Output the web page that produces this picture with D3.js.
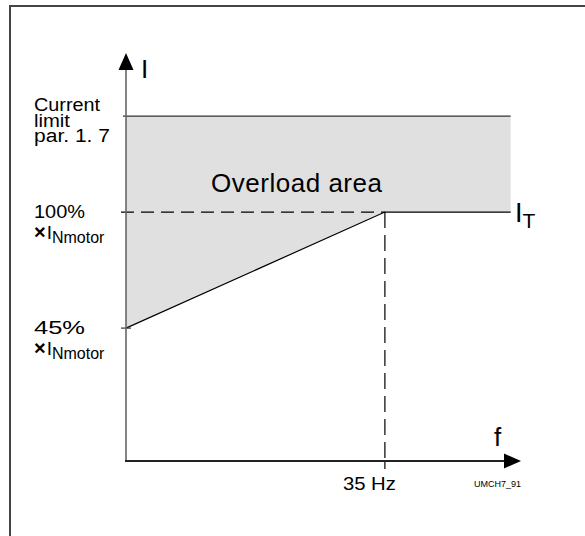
<!DOCTYPE html>
<html><head><meta charset="utf-8">
<script src="https://cdn.jsdelivr.net/npm/d3@7"></script>
<style>body{margin:0;background:#fff}svg{display:block}text{font-family:"Liberation Sans",Arial,sans-serif;fill:#000}</style>
</head><body><svg id="c" width="585" height="536"></svg>
<script>
// Data (schematic values, % of I_Nmotor vs frequency in Hz)
const freqPoints = [0, 35, 52];          // f breakpoints
const thermalCurrent = [45, 100, 100];  // I_T curve (%)
const currentLimit = 145.5;             // current limit level (par. 1.7)
const fDomain = [0, 53.4];
const iDomain = [-18, 175.4];
const limitLines = ["Current", "limit", "par. 1. 7"];
const limitWidths = [66, 36, 76];
const pctLabels = [{v: 100, pct: "100%"}, {v: 45, pct: "45%"}];
const xTickLabel = {v: 35, text: "35 Hz"};

const svg = d3.select("#c");
const x = d3.scaleLinear().domain(fDomain).range([126, 521]);
const y = d3.scaleLinear().domain(iDomain).range([461, 53]);

// frame
svg.append("path").attr("d", "M10,536 V6 H585").attr("fill", "none").attr("stroke", "#444").attr("stroke-width", 2);

// shaded overload area
const pts = freqPoints.map((f, i) => [x(f), y(thermalCurrent[i])]);
const area = [[x(0), y(currentLimit)], [x(freqPoints[2]), y(currentLimit)], ...pts.slice().reverse()];
svg.append("path").attr("d", d3.line()(area) + "Z").attr("fill", "#e0e0e0");

// current limit line
svg.append("line").attr("x1", x(0) - 3).attr("x2", x(freqPoints[2])).attr("y1", y(currentLimit)).attr("y2", y(currentLimit))
  .attr("stroke", "#333").attr("stroke-width", 1.2);

// dashed 100% line
svg.append("line").attr("x1", x(0) - 5).attr("x2", x(35)).attr("y1", y(100)).attr("y2", y(100))
  .attr("stroke", "#000").attr("stroke-width", 1.2).attr("stroke-dasharray", "13,7");
// dashed vertical at 35 Hz
svg.append("line").attr("x1", x(35)).attr("x2", x(35)).attr("y1", y(100)).attr("y2", y(iDomain[0]))
  .attr("stroke", "#000").attr("stroke-width", 1.2).attr("stroke-dasharray", "16,7");
svg.append("line").attr("x1", x(35)).attr("x2", x(35)).attr("y1", y(iDomain[0])).attr("y2", y(iDomain[0]) + 8)
  .attr("stroke", "#000").attr("stroke-width", 1.2);

// I_T curve
svg.append("path").attr("d", d3.line()(pts)).attr("fill", "none").attr("stroke", "#000").attr("stroke-width", 1.2);

// 45% tick
svg.append("line").attr("x1", x(0) - 5).attr("x2", x(0) + 5).attr("y1", y(45)).attr("y2", y(45)).attr("stroke", "#333").attr("stroke-width", 1.2);

// axes
svg.append("line").attr("x1", x(0)).attr("x2", x(0)).attr("y1", y(iDomain[0]) + 1).attr("y2", 66).attr("stroke", "#666").attr("stroke-width", 1.6);
svg.append("line").attr("x1", x(0) - 1).attr("x2", 508).attr("y1", y(iDomain[0])).attr("y2", y(iDomain[0])).attr("stroke", "#222").attr("stroke-width", 1.8);
svg.append("path").attr("d", `M${x(0)},${y(iDomain[1])} L${x(0) + 7.5},70 L${x(0) - 7.5},70 Z`).attr("fill", "#000");
svg.append("path").attr("d", `M${x(fDomain[1])},${y(iDomain[0])} L504,${y(iDomain[0]) - 7.5} L504,${y(iDomain[0]) + 7.5} Z`).attr("fill", "#000");

// axis labels
svg.append("text").attr("x", 141).attr("y", 78).attr("font-size", 26).text("I");
svg.append("text").attr("x", 494).attr("y", 446).attr("font-size", 26).text("f");
const it = svg.append("text").attr("x", 515).attr("y", 222).attr("font-size", 27);
it.append("tspan").text("I");
it.append("tspan").attr("font-size", 21).attr("dy", 6).text("T");

// Overload area
svg.append("text").attr("x", 211).attr("y", 192).attr("font-size", 26).attr("textLength", 171).text("Overload area");

// current limit label (one text block, three lines)
const lim = svg.append("text").attr("x", 34).attr("y", y(currentLimit) - 5).attr("font-size", 18);
limitLines.forEach((l, i) => lim.append("tspan").attr("x", 34).attr("dy", i === 0 ? 0 : 15.5)
  .attr("textLength", limitWidths[i]).attr("lengthAdjust", "spacingAndGlyphs").text(l));

// percentage labels
pctLabels.forEach(d => {
  const yy = y(d.v);
  svg.append("text").attr("x", 34).attr("y", yy + 6).attr("font-size", 19).attr("textLength", 51).attr("lengthAdjust", "spacingAndGlyphs").text(d.pct);
  const t = svg.append("text").attr("x", 34).attr("y", yy + 27).attr("font-size", 19);
  t.append("tspan").attr("font-weight", "bold").attr("font-size", 20).text("×");
  t.append("tspan").attr("dx", 1).text("I");
  t.append("tspan").attr("font-size", 16).attr("dy", 4).text("Nmotor");
});

// x tick label
svg.append("text").attr("x", x(xTickLabel.v) - 42).attr("y", 490).attr("font-size", 19).attr("textLength", 53).attr("lengthAdjust", "spacingAndGlyphs").text(xTickLabel.text);
svg.append("text").attr("x", 521).attr("y", 487).attr("font-size", 9).attr("text-anchor", "end").text("UMCH7_91");
</script></body></html>
